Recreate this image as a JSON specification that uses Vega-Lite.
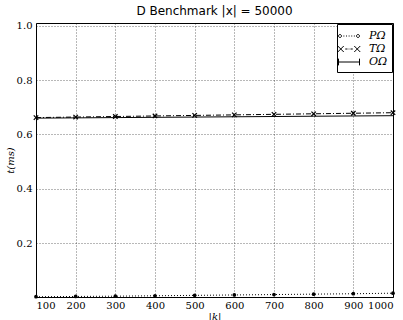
{
  "$schema": "https://vega.github.io/schema/vega-lite/v6.json",
  "width": 357,
  "height": 274,
  "autosize": "none",
  "padding": {"left": 36, "top": 23, "right": 10, "bottom": 23},
  "background": "white",
  "title": {"text": "D Benchmark |x| = 50000", "font": "DejaVu Sans", "fontSize": 12, "fontWeight": "normal", "color": "black", "offset": 3, "anchor": "middle"},
  "config": {
    "view": {"stroke": "black", "strokeWidth": 1},
    "axis": {
      "grid": true, "gridColor": "black", "gridDash": [1, 2], "gridOpacity": 0.7, "gridWidth": 0.8,
      "domain": false, "ticks": false,
      "labelFont": "DejaVu Serif", "labelFontSize": 10, "labelColor": "black",
      "titleFont": "DejaVu Serif", "titleFontSize": 10, "titleFontWeight": "normal", "titleFontStyle": "italic", "titleColor": "black"
    }
  },
  "data": {"values": [
    {"k": 100, "s": "PΩ", "t": 0.003}, {"k": 200, "s": "PΩ", "t": 0.004}, {"k": 300, "s": "PΩ", "t": 0.005},
    {"k": 400, "s": "PΩ", "t": 0.0065}, {"k": 500, "s": "PΩ", "t": 0.008}, {"k": 600, "s": "PΩ", "t": 0.0095},
    {"k": 700, "s": "PΩ", "t": 0.011}, {"k": 800, "s": "PΩ", "t": 0.0125}, {"k": 900, "s": "PΩ", "t": 0.014},
    {"k": 1000, "s": "PΩ", "t": 0.016},
    {"k": 100, "s": "TΩ", "t": 0.662}, {"k": 200, "s": "TΩ", "t": 0.664}, {"k": 300, "s": "TΩ", "t": 0.666},
    {"k": 400, "s": "TΩ", "t": 0.668}, {"k": 500, "s": "TΩ", "t": 0.670}, {"k": 600, "s": "TΩ", "t": 0.672},
    {"k": 700, "s": "TΩ", "t": 0.674}, {"k": 800, "s": "TΩ", "t": 0.676}, {"k": 900, "s": "TΩ", "t": 0.678},
    {"k": 1000, "s": "TΩ", "t": 0.680},
    {"k": 100, "s": "OΩ", "t": 0.660}, {"k": 200, "s": "OΩ", "t": 0.661}, {"k": 300, "s": "OΩ", "t": 0.662},
    {"k": 400, "s": "OΩ", "t": 0.663}, {"k": 500, "s": "OΩ", "t": 0.664}, {"k": 600, "s": "OΩ", "t": 0.665},
    {"k": 700, "s": "OΩ", "t": 0.666}, {"k": 800, "s": "OΩ", "t": 0.667}, {"k": 900, "s": "OΩ", "t": 0.668},
    {"k": 1000, "s": "OΩ", "t": 0.669}
  ]},
  "encoding": {
    "x": {"field": "k", "type": "quantitative", "scale": {"domain": [100, 1000], "nice": false, "zero": false},
      "axis": {"values": [100, 200, 300, 400, 500, 600, 700, 800, 900, 1000], "format": "d", "title": "|k|", "labelPadding": 3, "titlePadding": 1}},
    "y": {"field": "t", "type": "quantitative", "scale": {"domain": [0.002, 1.01], "nice": false, "zero": false},
      "axis": {"values": [0.2, 0.4, 0.6, 0.8, 1.0], "format": ".1f", "title": "t(ms)", "labelPadding": 4, "titlePadding": 1}}
  },
  "layer": [
    {
      "mark": {"type": "line", "color": "black", "strokeWidth": 1},
      "encoding": {
        "detail": {"field": "s"},
        "strokeDash": {"field": "s", "type": "nominal",
          "scale": {"domain": ["OΩ", "TΩ", "PΩ"], "range": [[1, 0], [5, 2, 1, 2], [1, 2]]},
          "legend": null
        }
      }
    },
    {
      "transform": [{"filter": "datum.s === 'PΩ'"}],
      "mark": {"type": "point", "filled": true, "color": "black", "size": 14, "opacity": 1}
    },
    {
      "transform": [{"filter": "datum.s === 'TΩ'"}],
      "mark": {"type": "point", "shape": "M-1,-1L1,1M-1,1L1,-1", "filled": false, "color": "black", "strokeWidth": 1.2, "size": 20, "opacity": 1}
    },
    {
      "mark": {"type": "point", "filled": false, "color": "black", "opacity": 0},
      "encoding": {
        "shape": {"field": "s", "type": "nominal",
          "scale": {"domain": ["PΩ", "TΩ", "OΩ"], "range": [
            "M-1.4,0A0.2,0.2,0,1,1,-1,0A0.2,0.2,0,1,1,-1.4,0ZM1,0A0.2,0.2,0,1,1,1.4,0A0.2,0.2,0,1,1,1,0ZM-0.75,0L-0.62,0M-0.4,0L-0.27,0M-0.05,0L0.08,0M0.3,0L0.43,0M0.65,0L0.78,0",
            "M-1.5,-0.4L-0.7,0.4M-1.5,0.4L-0.7,-0.4M0.7,-0.4L1.5,0.4M0.7,0.4L1.5,-0.4M-0.5,0L-0.2,0M-0.05,0L0.05,0M0.2,0L0.5,0",
            "M-1.4,-0.45L-1.4,0.45M-1.4,0L1.4,0M1.4,-0.45L1.4,0.45"
          ]},
          "legend": {
            "title": null, "orient": "top-right", "offset": 1,
            "strokeColor": "black", "fillColor": "white", "padding": 4,
            "symbolSize": 225, "symbolStrokeWidth": 1, "symbolStrokeColor": "black", "symbolFillColor": "black", "symbolOpacity": 1,
            "labelFont": "DejaVu Serif", "labelFontStyle": "italic", "labelFontSize": 11, "labelColor": "black", "labelOffset": 12,
            "rowPadding": 0,
            "encode": {"symbols": {"stroke": {"value": "black"}, "fill": {"value": "black"}, "strokeWidth": {"value": 1}}}
          }
        }
      }
    }
  ]
}
